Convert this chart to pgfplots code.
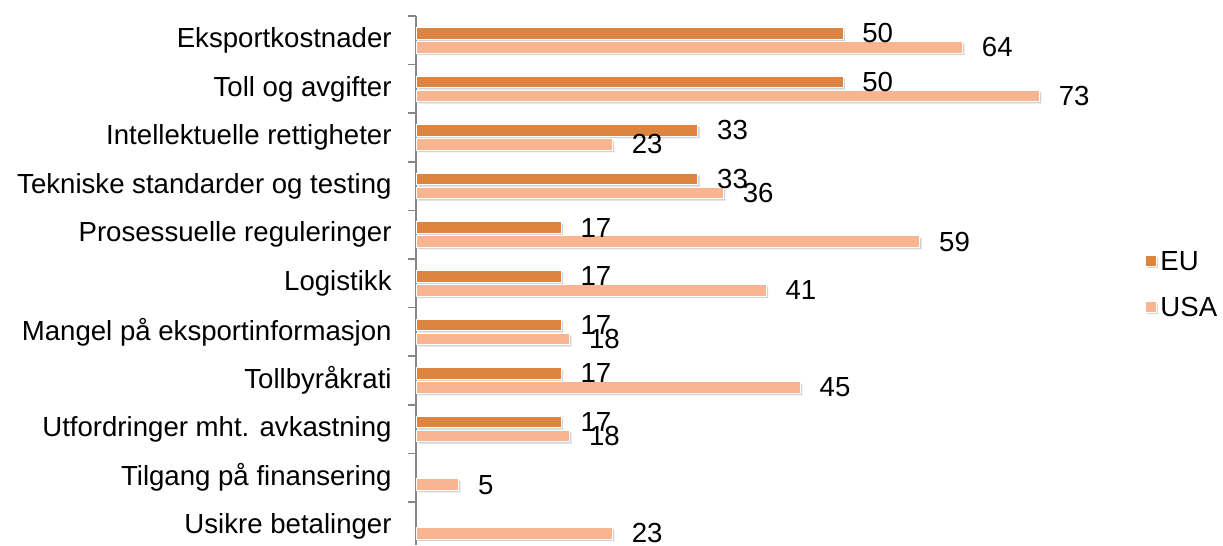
\documentclass[border=0pt]{standalone}
\usepackage{fontspec}
\setmainfont{Liberation Sans}
\usepackage{pgfplots}
\pgfplotsset{compat=1.18}
\usetikzlibrary{shadows}
\definecolor{eu}{RGB}{221,132,65}
\definecolor{usa}{RGB}{249,181,143}
\definecolor{axgray}{RGB}{134,134,134}
\begin{document}
\begin{tikzpicture}[font=\fontsize{13.8}{16}\selectfont]
\begin{axis}[
 xbar, x=4.27pt, y=24.3pt,
 xmin=0, xmax=94.5, ymin=-0.385, ymax=10.5,
 hide x axis, axis y line*=left,
 axis line style={-, draw=axgray, line width=0.8pt},
 ytick={0,...,10},
 yticklabels={Usikre betalinger, Tilgang på finansering, Utfordringer mht. avkastning, Tollbyråkrati, Mangel på eksportinformasjon, Logistikk, Prosessuelle reguleringer, Tekniske standarder og testing, Intellektuelle rettigheter, Toll og avgifter, Eksportkostnader},
 major tick length=0pt, minor ytick={0.5,1.5,...,10.5}, minor tick length=4pt,
 tick align=outside, tick style={draw=axgray, line width=0.8pt},
 y tick label style={inner sep=0pt, xshift=-12pt, anchor=east},
 bar width=5.8pt,
 nodes near coords,
 nodes near coords style={anchor=west, inner sep=0pt, xshift=9.5pt, text=black},
 /pgf/number format/assume math mode=true,
 legend style={draw=none, fill=none, at={(rel axis cs:0.895,0.49)}, anchor=west, legend cell align=left, row sep=8pt},
 legend image code/.code={\fill[#1] (0pt,-1.8pt) rectangle (5.5pt,3.7pt);},
 clip=false,
]
\addplot[fill=eu, draw=white, line width=0.4pt, bar shift=3.5pt,
  drop shadow={shadow xshift=1pt, shadow yshift=-1pt, opacity=0.35}] coordinates {
 (50,10) (50,9) (33,8) (33,7) (17,6) (17,5) (17,4) (17,3) (17,2)};
\addplot[fill=usa, draw=white, line width=0.4pt, bar shift=-3.5pt,
  drop shadow={shadow xshift=1pt, shadow yshift=-1pt, opacity=0.35}] coordinates {
 (64,10) (73,9) (23,8) (36,7) (59,6) (41,5) (18,4) (45,3) (18,2) (5,1) (23,0)};
\legend{EU, USA}
\coordinate (TL) at (rel axis cs:0,1);
\coordinate (BR) at (rel axis cs:1,0);
\end{axis}
\pgfresetboundingbox
\path ([shift={(-208pt,8pt)}]TL) rectangle (BR);
\end{tikzpicture}
\end{document}
